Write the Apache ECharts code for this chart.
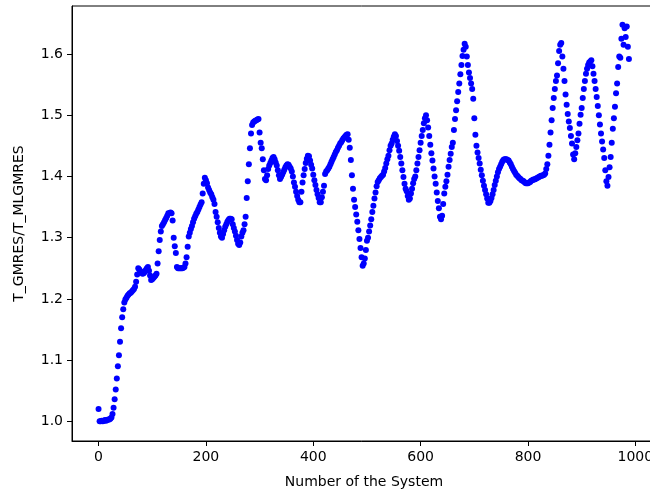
<!DOCTYPE html>
<html>
<head>
<meta charset="utf-8">
<script src="https://cdn.jsdelivr.net/npm/echarts@6/dist/echarts.min.js"></script>
<style>
html, body { margin: 0; padding: 0; background: #fff; }
#chart { width: 650px; height: 495px; }
</style>
</head>
<body>
<div id="chart"></div>
<script>
'use strict';
// 横轴刻度
var xTicks = [0, 200, 400, 600, 800, 1000];
// 纵轴刻度
var yTicks = [1.0, 1.1, 1.2, 1.3, 1.4, 1.5, 1.6];
// 系统编号间隔 (每隔2个读一次)
var sysStep = 2;
// T_GMRES / T_MLGMRES, system 0,2,4,...,988
var ratio = [
    1.020, 1.000, 1.000, 1.001, 1.000, 1.001, 1.002, 1.001, 1.002, 1.003,
    1.003, 1.004, 1.006, 1.012, 1.022, 1.036, 1.052, 1.070, 1.090, 1.108,
    1.130, 1.152, 1.170, 1.183, 1.194, 1.199, 1.202, 1.205, 1.207, 1.209,
    1.210, 1.212, 1.214, 1.216, 1.220, 1.228, 1.240, 1.250, 1.248, 1.245,
    1.243, 1.241, 1.242, 1.244, 1.247, 1.250, 1.252, 1.246, 1.238, 1.231,
    1.232, 1.234, 1.236, 1.238, 1.241, 1.258, 1.278, 1.296, 1.310, 1.319,
    1.322, 1.325, 1.329, 1.332, 1.336, 1.340, 1.340, 1.341, 1.340, 1.328,
    1.300, 1.286, 1.275, 1.252, 1.250, 1.250, 1.250, 1.250, 1.250, 1.251,
    1.252, 1.258, 1.268, 1.285, 1.302, 1.308, 1.314, 1.319, 1.325, 1.331,
    1.335, 1.339, 1.342, 1.346, 1.350, 1.354, 1.358, 1.372, 1.388, 1.398,
    1.394, 1.389, 1.382, 1.378, 1.374, 1.371, 1.366, 1.362, 1.355, 1.342,
    1.334, 1.325, 1.316, 1.308, 1.302, 1.300, 1.306, 1.312, 1.318, 1.322,
    1.326, 1.329, 1.331, 1.331, 1.330, 1.322, 1.316, 1.310, 1.303, 1.296,
    1.290, 1.288, 1.292, 1.302, 1.308, 1.312, 1.322, 1.334, 1.365, 1.392,
    1.420, 1.446, 1.470, 1.484, 1.488, 1.490, 1.491, 1.492, 1.493, 1.494,
    1.472, 1.455, 1.446, 1.428, 1.410, 1.396, 1.394, 1.402, 1.412, 1.418,
    1.422, 1.426, 1.430, 1.432, 1.428, 1.423, 1.418, 1.410, 1.402, 1.396,
    1.399, 1.403, 1.407, 1.411, 1.415, 1.418, 1.420, 1.419, 1.416, 1.413,
    1.408, 1.400, 1.390, 1.383, 1.375, 1.368, 1.362, 1.358, 1.358, 1.375,
    1.390, 1.402, 1.412, 1.422, 1.429, 1.434, 1.433, 1.426, 1.419, 1.413,
    1.403, 1.394, 1.386, 1.378, 1.371, 1.365, 1.358, 1.358, 1.366, 1.375,
    1.385, 1.404, 1.408, 1.410, 1.413, 1.416, 1.420, 1.424, 1.428, 1.432,
    1.436, 1.440, 1.443, 1.447, 1.450, 1.454, 1.456, 1.459, 1.462, 1.464,
    1.466, 1.468, 1.469, 1.460, 1.447, 1.427, 1.402, 1.380, 1.362, 1.350,
    1.338, 1.326, 1.312, 1.298, 1.283, 1.268, 1.254, 1.258, 1.266, 1.280,
    1.295, 1.300, 1.310, 1.320, 1.330, 1.342, 1.352, 1.364, 1.374, 1.384,
    1.391, 1.394, 1.397, 1.399, 1.401, 1.403, 1.408, 1.414, 1.421, 1.428,
    1.434, 1.443, 1.450, 1.454, 1.460, 1.465, 1.469, 1.466, 1.458, 1.450,
    1.442, 1.432, 1.421, 1.410, 1.399, 1.388, 1.380, 1.376, 1.368, 1.362,
    1.364, 1.372, 1.380, 1.389, 1.396, 1.400, 1.410, 1.421, 1.432, 1.443,
    1.455, 1.466, 1.476, 1.487, 1.495, 1.500, 1.492, 1.480, 1.466, 1.452,
    1.438, 1.426, 1.413, 1.400, 1.388, 1.374, 1.360, 1.348, 1.334, 1.330,
    1.336, 1.355, 1.372, 1.383, 1.392, 1.403, 1.416, 1.427, 1.437, 1.448,
    1.455, 1.476, 1.494, 1.508, 1.523, 1.538, 1.552, 1.567, 1.582, 1.597,
    1.607, 1.617, 1.612, 1.596, 1.582, 1.570, 1.561, 1.552, 1.543, 1.527,
    1.495, 1.468, 1.450, 1.439, 1.430, 1.421, 1.411, 1.402, 1.393, 1.385,
    1.378, 1.371, 1.364, 1.357, 1.357, 1.360, 1.365, 1.371, 1.378, 1.386,
    1.393, 1.400, 1.407, 1.412, 1.416, 1.420, 1.424, 1.427, 1.428, 1.428,
    1.428, 1.427, 1.426, 1.423, 1.420, 1.416, 1.412, 1.409, 1.406, 1.403,
    1.401, 1.399, 1.397, 1.396, 1.394, 1.393, 1.392, 1.390, 1.389, 1.389,
    1.389, 1.390, 1.391, 1.393, 1.394, 1.395, 1.395, 1.396, 1.397, 1.398,
    1.399, 1.400, 1.401, 1.401, 1.402, 1.403, 1.405, 1.412, 1.420, 1.434,
    1.452, 1.472, 1.492, 1.512, 1.528, 1.543, 1.556, 1.565, 1.585, 1.605,
    1.615, 1.618, 1.596, 1.576, 1.556, 1.534, 1.517, 1.502, 1.490, 1.479,
    1.466, 1.454, 1.436, 1.428, 1.438, 1.448, 1.459, 1.470, 1.486, 1.501,
    1.512, 1.528, 1.543, 1.556, 1.568, 1.576, 1.582, 1.586, 1.588, 1.590,
    1.580, 1.568, 1.556, 1.543, 1.530, 1.515, 1.500, 1.485, 1.470, 1.457,
    1.444, 1.430, 1.410, 1.392, 1.385, 1.399, 1.415, 1.432, 1.455, 1.478,
    1.495, 1.514, 1.536, 1.552, 1.579, 1.596, 1.594, 1.625, 1.648, 1.615,
    1.642, 1.628, 1.645, 1.612, 1.592
];

var points = [];
for (var i = 0; i < ratio.length; i++) {
    points.push([i * sysStep, ratio[i]]);
}

var myChart = echarts.init(document.getElementById('chart'));
var font = 'DejaVu Sans';
var option = {
    animation: false,
    backgroundColor: '#fff',
    grid: {
        left: 72,
        top: 6,
        width: 584,
        height: 435,
        outerBoundsMode: 'none',
        containLabel: false,
        show: true,
        borderColor: '#000',
        borderWidth: 1,
        backgroundColor: 'transparent'
    },
    xAxis: {
        type: 'value',
        min: -49.45,
        max: 1038.45,
        name: 'Number of the System',
        nameLocation: 'middle',
        nameGap: 34,
        nameTextStyle: { color: '#000', fontSize: 14, fontFamily: font },
        axisLine: { show: true, onZero: false, lineStyle: { color: '#000', width: 1 } },
        axisTick: {
            show: true, inside: false, length: 5,
            customValues: xTicks,
            lineStyle: { color: '#000', width: 1 }
        },
        axisLabel: {
            customValues: xTicks,
            margin: 9,
            color: '#000',
            fontSize: 14,
            fontFamily: font,
            formatter: function (v) { return String(v); }
        },
        splitLine: { show: false }
    },
    yAxis: {
        type: 'value',
        min: 0.9678,
        max: 1.6785,
        name: 'T_GMRES/T_MLGMRES',
        nameLocation: 'middle',
        nameGap: 46,
        nameTextStyle: { color: '#000', fontSize: 14, fontFamily: font },
        axisLine: { show: true, onZero: false, lineStyle: { color: '#000', width: 1 } },
        axisTick: {
            show: true, inside: false, length: 5,
            customValues: yTicks,
            lineStyle: { color: '#000', width: 1 }
        },
        axisLabel: {
            customValues: yTicks,
            margin: 9,
            color: '#000',
            fontSize: 14,
            fontFamily: font,
            formatter: function (v) { return v.toFixed(1); }
        },
        splitLine: { show: false }
    },
    series: [{
        type: 'scatter',
        data: points,
        symbolSize: 6,
        itemStyle: { color: '#0000ff', opacity: 1 }
    }]
};
myChart.setOption(option);
</script>
</body>
</html>
